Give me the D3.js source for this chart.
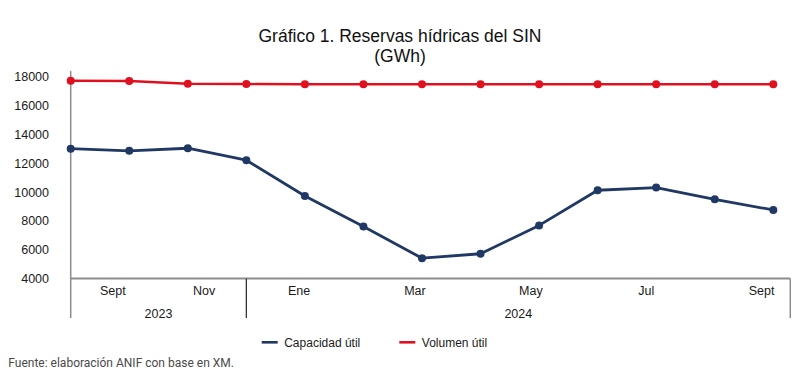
<!DOCTYPE html>
<html>
<head>
<meta charset="utf-8">
<script src="https://cdn.jsdelivr.net/npm/d3@7"></script>
<style>
  html, body { margin: 0; padding: 0; background: #fff; }
  svg { display: block; }
</style>
</head>
<body>
<svg id="chart" width="803" height="381"></svg>
<script>
// ---- Data ----
const months = ["Sep 2023","Oct 2023","Nov 2023","Dec 2023","Jan 2024","Feb 2024","Mar 2024","Apr 2024","May 2024","Jun 2024","Jul 2024","Aug 2024","Sep 2024"];
const capacidadUtil = [13020, 12870, 13050, 12220, 9730, 7620, 5410, 5720, 7690, 10130, 10320, 9500, 8760];
const volumenUtil = [17740, 17720, 17530, 17510, 17500, 17500, 17500, 17500, 17500, 17500, 17500, 17500, 17500];
const yTicks = [4000, 6000, 8000, 10000, 12000, 14000, 16000, 18000];
const monthLabels = ["Sept", "Nov", "Ene", "Mar", "May", "Jul", "Sept"];
const monthLabelPos = [0.72, 2.28, 3.9, 5.88, 7.86, 9.83, 11.8];
const yearLabels = ["2023", "2024"];
const yearBounds = [0, 3, 12.29];
const seriesNames = ["Capacidad útil", "Volumen útil"];
const colors = ["#1f3864", "#e0101f"];

// ---- Chart ----
const svg = d3.select("#chart");
const x = d3.scaleLinear().domain([0, 12]).range([70.7, 773.3]);
const y = d3.scaleLinear().domain([4000, 18000]).range([278.5, 77]);
const font = "'Liberation Sans', Arial, sans-serif";
const axisColor = "#8c8c8c";

// Title
svg.append("text").attr("x", 400).attr("y", 42).attr("text-anchor", "middle")
  .style("font-family", font).style("font-size", "17.5px").attr("fill", "#111")
  .text("Gráfico 1. Reservas hídricas del SIN");
svg.append("text").attr("x", 400).attr("y", 62).attr("text-anchor", "middle")
  .style("font-family", font).style("font-size", "17.5px").attr("fill", "#111")
  .text("(GWh)");

// Y tick labels
svg.append("g").selectAll("text").data(yTicks).join("text")
  .attr("x", 49).attr("y", d => y(d)).attr("dy", "0.35em")
  .attr("text-anchor", "end")
  .style("font-family", font).style("font-size", "12.5px").attr("fill", "#1a1a1a")
  .text(d => d);

// Axes lines
const xEnd = x(yearBounds[2]);
svg.append("line").attr("x1", x(0)).attr("x2", x(0)).attr("y1", y(18420)).attr("y2", 318)
  .attr("stroke", axisColor).attr("stroke-width", 1.5);
svg.append("line").attr("x1", x(0)).attr("x2", xEnd).attr("y1", y(4000)).attr("y2", y(4000))
  .attr("stroke", axisColor).attr("stroke-width", 2);
svg.append("line").attr("x1", x(yearBounds[1])).attr("x2", x(yearBounds[1])).attr("y1", y(4000)).attr("y2", 318)
  .attr("stroke", "#3a3040").attr("stroke-width", 1.3);
svg.append("line").attr("x1", xEnd).attr("x2", xEnd).attr("y1", y(4000)).attr("y2", 318)
  .attr("stroke", axisColor).attr("stroke-width", 1.5);

// Month labels
svg.append("g").selectAll("text").data(monthLabels).join("text")
  .attr("x", (d, i) => x(monthLabelPos[i])).attr("y", 295)
  .attr("text-anchor", "middle")
  .style("font-family", font).style("font-size", "12.5px").attr("fill", "#1a1a1a")
  .text(d => d);

// Year labels
svg.append("g").selectAll("text").data(yearLabels).join("text")
  .attr("x", (d, i) => (x(yearBounds[i]) + x(yearBounds[i + 1])) / 2).attr("y", 318)
  .attr("text-anchor", "middle")
  .style("font-family", font).style("font-size", "12.5px").attr("fill", "#1a1a1a")
  .text(d => d);

// Series
const series = [capacidadUtil, volumenUtil];
const widths = [2.8, 2.4];
const line = d3.line().x((d, i) => x(i)).y(d => y(d));
series.forEach((vals, s) => {
  svg.append("path").datum(vals).attr("d", line)
    .attr("fill", "none").attr("stroke", colors[s]).attr("stroke-width", widths[s])
    .attr("stroke-linejoin", "round");
  svg.append("g").selectAll("circle").data(vals).join("circle")
    .attr("cx", (d, i) => x(i)).attr("cy", d => y(d)).attr("r", 4)
    .attr("fill", colors[s]);
});

// Legend
const legendX = [261.7, 399.3];
seriesNames.forEach((name, s) => {
  svg.append("line").attr("x1", legendX[s]).attr("x2", legendX[s] + 16)
    .attr("y1", 342.3).attr("y2", 342.3)
    .attr("stroke", colors[s]).attr("stroke-width", 2.6);
  svg.append("text").attr("x", legendX[s] + 22.5).attr("y", 346.5)
    .style("font-family", font).style("font-size", "12px").attr("fill", "#1a1a1a")
    .text(name);
});

// Source
svg.append("text").attr("x", 8.3).attr("y", 367)
  .style("font-family", "Roboto, 'Liberation Sans', sans-serif").style("font-size", "12px").attr("fill", "#4a4a4a")
  .text("Fuente: elaboración ANIF con base en XM.");
</script>
</body>
</html>
